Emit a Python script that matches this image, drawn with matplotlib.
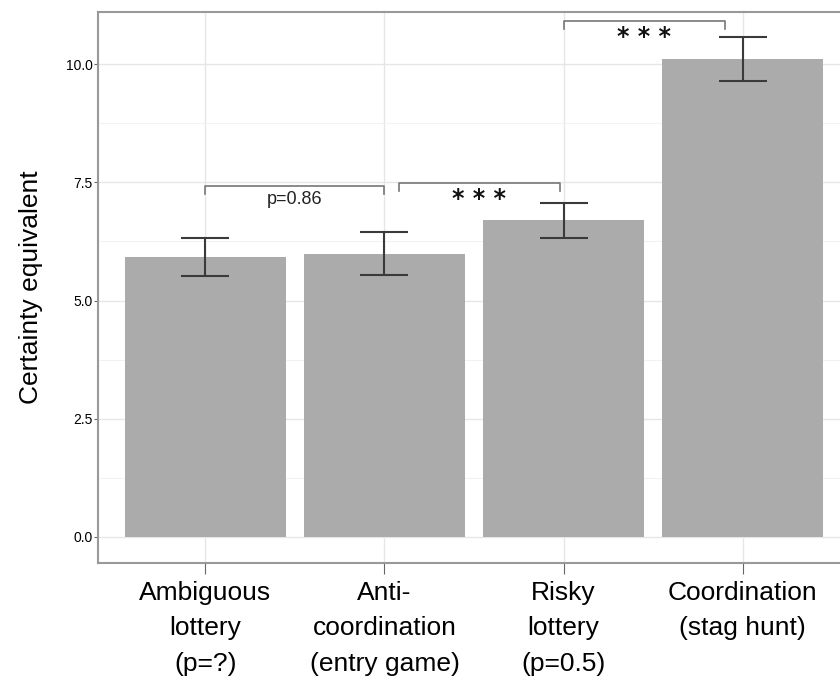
import matplotlib
matplotlib.use("Agg")
import matplotlib.pyplot as plt

categories = ["Ambiguous\nlottery\n(p=?)", "Anti-\ncoordination\n(entry game)",
              "Risky\nlottery\n(p=0.5)", "Coordination\n(stag hunt)"]
means = [5.92, 5.98, 6.70, 10.10]
err_low = [5.52, 5.54, 6.32, 9.64]
err_high = [6.32, 6.45, 7.06, 10.57]

# comparisons: (left x, right x, bracket height, label)
brackets = [(0, 1, 7.42, "p=0.86"), (1.08, 1.98, 7.48, "* * *"), (2.0, 2.9, 10.9, "* * *")]

plt.rcParams["font.family"] = ["Liberation Sans", "DejaVu Sans"]

fig = plt.figure(figsize=(8.4, 6.82), dpi=100)
ax = fig.add_axes([98 / 840, 1 - 563 / 682, 752 / 840, 551 / 682])

xs = list(range(len(categories)))
ax.bar(xs, means, width=0.9, color="#ababab", zorder=2)
lo = [m - l for m, l in zip(means, err_low)]
hi = [h - m for m, h in zip(means, err_high)]
ax.errorbar(xs, means, yerr=[lo, hi], fmt="none", ecolor="#3a3a3a",
            elinewidth=1.5, capsize=17, capthick=1.5, zorder=3)

for x0, x1, y, label in brackets:
    ax.plot([x0, x0, x1, x1], [y - 0.17, y, y, y - 0.17], color="#777777", lw=1.2, zorder=4)
    if label.startswith("p"):
        ax.text((x0 + x1) / 2, y - 0.1, label, ha="center", va="top", fontsize=13, color="#222222")
    else:
        ax.text((x0 + x1) / 2, y - 0.08, label, ha="center", va="top", fontsize=17,
                family="DejaVu Sans", fontweight="bold", color="#111111")

ax.set_xlim(-0.6, 3.6)
ax.set_ylim(-0.55, 11.1)
ax.set_yticks([0, 2.5, 5, 7.5, 10])
ax.set_yticklabels(["0.0", "2.5", "5.0", "7.5", "10.0"])
ax.set_yticks([1.25, 3.75, 6.25, 8.75], minor=True)
ax.set_xticks(xs)
ax.set_xticklabels(categories, fontsize=19, linespacing=1.6)
ax.tick_params(axis="y", labelsize=10, length=3, color="#666666", pad=1)
ax.tick_params(axis="y", which="minor", length=0)
ax.tick_params(axis="x", length=8, color="#666666", pad=5)

ax.grid(True, which="major", color="#e6e6e6", lw=1, zorder=0)
ax.grid(True, which="minor", axis="y", color="#f2f2f2", lw=0.8, zorder=0)
for s in ax.spines.values():
    s.set_color("#999999")
    s.set_linewidth(1.5)

ax.set_ylabel("Certainty equivalent", fontsize=19, labelpad=16)

fig.savefig("out.png", dpi=100)
